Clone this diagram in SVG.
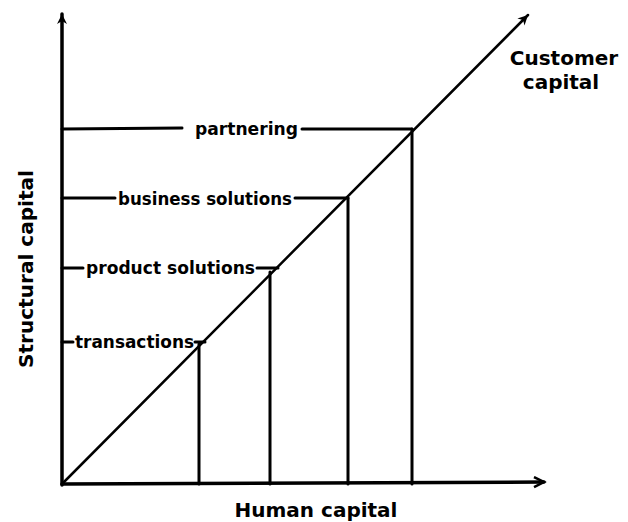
<svg xmlns="http://www.w3.org/2000/svg" width="628" height="522" viewBox="0 0 628 522">
<defs>
<style>
.ln{stroke:#000;fill:none;stroke-linecap:round}
.ax{stroke-width:3.5}
.v{stroke-width:3}
.h{stroke-width:3}
.d{stroke-width:2.5}
.lbl{font-family:"DejaVu Sans",sans-serif;font-weight:bold;font-size:17.5px;fill:#000}
.big{font-family:"DejaVu Sans",sans-serif;font-weight:bold;font-size:20px;fill:#000}
</style>
<marker id="arF" markerWidth="12" markerHeight="12" refX="10" refY="5" orient="auto" markerUnits="userSpaceOnUse">
<path d="M0,0 L10,5 L0,10 L3,5 Z" fill="#000"/>
</marker>
<marker id="arO" markerWidth="14" markerHeight="14" refX="11" refY="6" orient="auto" markerUnits="userSpaceOnUse">
<path d="M1,1 L11,6 L1,11" fill="none" stroke="#000" stroke-width="2.5"/>
</marker>
</defs>
<rect width="628" height="522" fill="#fff"/>
<g id="connectors">
<line class="ln ax" x1="62" y1="485" x2="62" y2="14" marker-end="url(#arF)"/>
<line class="ln ax" x1="62" y1="484" x2="544" y2="482" marker-end="url(#arO)"/>
<line class="ln d" x1="62" y1="484" x2="528" y2="15" marker-end="url(#arF)"/>
<line class="ln v" x1="199" y1="344" x2="199" y2="484"/>
<line class="ln v" x1="270" y1="272" x2="270" y2="484"/>
<line class="ln v" x1="348" y1="198" x2="348" y2="484"/>
<line class="ln v" x1="412" y1="129" x2="412" y2="484"/>
<line class="ln h" x1="62" y1="129" x2="182" y2="128"/>
<line class="ln h" x1="302" y1="129" x2="412" y2="129"/>
<line class="ln h" x1="62" y1="198" x2="115" y2="198"/>
<line class="ln h" x1="295" y1="198" x2="348" y2="198"/>
<line class="ln h" x1="62" y1="268" x2="83" y2="268"/>
<line class="ln h" x1="257" y1="268" x2="278" y2="268"/>
<line class="ln h" x1="62" y1="342" x2="73" y2="342"/>
<line class="ln h" x1="195" y1="342" x2="205" y2="342"/>
</g>
<g id="partnering"><text class="lbl" x="195" y="135" textLength="103" lengthAdjust="spacingAndGlyphs">partnering</text></g>
<g id="business-solutions"><text class="lbl" x="118" y="205" textLength="174" lengthAdjust="spacingAndGlyphs">business solutions</text></g>
<g id="product-solutions"><text class="lbl" x="86" y="274" textLength="169" lengthAdjust="spacingAndGlyphs">product solutions</text></g>
<g id="transactions"><text class="lbl" x="75" y="348" textLength="119" lengthAdjust="spacingAndGlyphs">transactions</text></g>
<g id="customer-capital"><text class="big" text-anchor="middle" x="564" y="65">Customer</text><text class="big" text-anchor="middle" x="561" y="89">capital</text></g>
<g id="human-capital"><text class="big" text-anchor="middle" x="316" y="517">Human capital</text></g>
<g id="structural-capital"><text class="big" text-anchor="middle" transform="translate(33,269) rotate(-90)" x="0" y="0" font-size="19" textLength="198" lengthAdjust="spacingAndGlyphs">Structural capital</text></g>
</svg>
